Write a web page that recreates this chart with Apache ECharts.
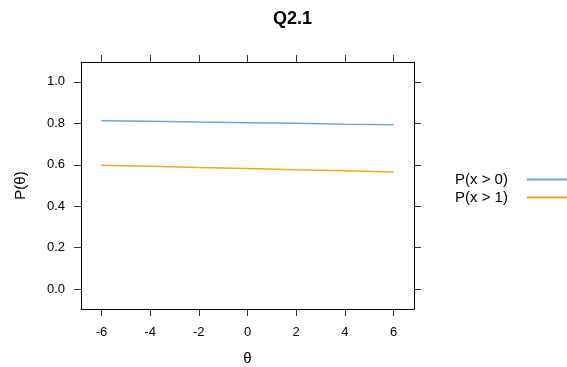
<!DOCTYPE html>
<html>
<head>
<meta charset="utf-8">
<script src="https://cdn.jsdelivr.net/npm/echarts@6/dist/echarts.min.js"></script>
<style>html,body{margin:0;padding:0;background:#fff;}#c{width:567px;height:367px;}</style>
</head>
<body>
<div id="c"></div>
<script>
var theta = [-6, -4, -2, 0, 2, 4, 6];
var pGt0 = [0.813, 0.810, 0.806, 0.803, 0.800, 0.796, 0.793];
var pGt1 = [0.598, 0.593, 0.587, 0.582, 0.576, 0.571, 0.565];
var xTicks = [-6, -4, -2, 0, 2, 4, 6];
var yTicks = [0.0, 0.2, 0.4, 0.6, 0.8, 1.0];
var seriesNames = ['P(x > 0)', 'P(x > 1)'];

function pairs(xs, ys) { return xs.map(function (x, i) { return [x, ys[i]]; }); }

var chart = echarts.init(document.getElementById('c'), null, {renderer: 'canvas'});
var font = 'Liberation Sans, Arial, sans-serif';
var tickStyle = {show: true, inside: false, length: 7, lineStyle: {color: '#333', width: 1}};
var lineStyle = {show: true, onZero: false, lineStyle: {color: '#000', width: 1}};
chart.setOption({
  animation: false,
  title: {text: 'Q2.1', left: 268, top: 5, textStyle: {fontFamily: font, fontSize: 18, fontWeight: 'bold', color: '#000'}},
  grid: {left: 81, top: 62, width: 333, height: 247, containLabel: false, outerBoundsMode: 'none'},
  legend: {
    orient: 'vertical', left: 450, top: 166, align: 'right',
    icon: 'rect', itemWidth: 45, itemHeight: 2, itemGap: 1,
    textStyle: {fontFamily: font, fontSize: 15, color: '#000', lineHeight: 17, padding: [0, 14, 0, 0]},
    data: seriesNames
  },
  xAxis: [{
    type: 'value', min: -6.84, max: 6.84, position: 'bottom',
    name: 'θ', nameLocation: 'middle', nameGap: 42,
    nameTextStyle: {fontFamily: font, fontSize: 15, color: '#000'},
    axisLine: lineStyle,
    axisTick: Object.assign({customValues: xTicks}, tickStyle),
    axisLabel: {customValues: xTicks, fontFamily: font, fontSize: 13, color: '#000', margin: 17},
    splitLine: {show: false}
  }, {
    type: 'value', min: -6.84, max: 6.84, position: 'top',
    axisLine: lineStyle,
    axisTick: Object.assign({customValues: xTicks}, tickStyle),
    axisLabel: {show: false},
    splitLine: {show: false}
  }],
  yAxis: [{
    type: 'value', min: -0.096, max: 1.096, position: 'left',
    name: 'P(θ)', nameLocation: 'middle', nameGap: 53, nameRotate: 90,
    nameTextStyle: {fontFamily: font, fontSize: 15, color: '#000'},
    axisLine: lineStyle,
    axisTick: Object.assign({customValues: yTicks}, tickStyle),
    axisLabel: {customValues: yTicks, fontFamily: font, fontSize: 13, color: '#000', margin: 16,
      formatter: function (v) { return v.toFixed(1); }},
    splitLine: {show: false}
  }, {
    type: 'value', min: -0.096, max: 1.096, position: 'right',
    axisLine: lineStyle,
    axisTick: Object.assign({customValues: yTicks}, tickStyle),
    axisLabel: {show: false},
    splitLine: {show: false}
  }],
  series: [{
    name: seriesNames[0], type: 'line', data: pairs(theta, pGt0),
    showSymbol: false, symbol: 'none', color: '#6CAAD4',
    lineStyle: {color: '#6CAAD4', width: 1.5}
  }, {
    name: seriesNames[1], type: 'line', data: pairs(theta, pGt1),
    showSymbol: false, symbol: 'none', color: '#F0A520',
    lineStyle: {color: '#F0A520', width: 1.5}
  }]
});
</script>
</body>
</html>
